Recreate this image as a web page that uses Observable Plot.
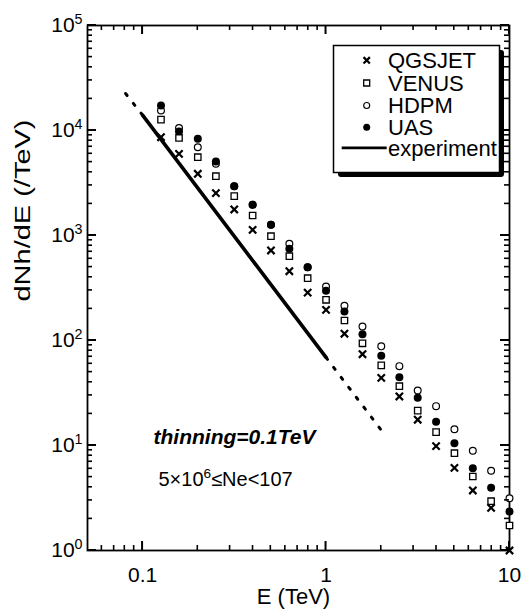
<!DOCTYPE html>
<html><head><meta charset="utf-8">
<script src="https://cdn.jsdelivr.net/npm/d3@7"></script>
<script src="https://cdn.jsdelivr.net/npm/@observablehq/plot@0.6"></script>
<style>body{margin:0;background:#fff}#chart{width:524px;height:615px}</style>
</head><body><div id="chart"></div>
<script>
// ---- data ----
const energies = [0.126, 0.158, 0.2, 0.251, 0.316, 0.398, 0.501, 0.631, 0.794, 1.0,
                  1.26, 1.58, 2.0, 2.51, 3.16, 3.98, 5.01, 6.31, 7.94, 10.0];
const qgsjet = [8630, 6000, 3870, 2530, 1770, 1133, 720, 457, 286, 196,
                116, 74, 44, 29.3, 17.6, 9.85, 6.13, 3.73, 2.55, 1.0];
const venus  = [12700, 8490, 5570, 3670, 2370, 1550, 985, 635, 392, 244,
                155, 94, 58, 36.7, 21.5, 13.4, 8.45, 5.07, 2.95, 1.73];
const hdpm   = [15500, 10570, 6930, 4820, 2950, 1960, 1265, 834, 499, 327,
                214, 136, 88, 57, 33.4, 23.7, 14.3, 8.9, 5.74, 3.15];
const uas    = [17300, 9800, 8340, 5070, 2950, 1960, 1265, 747, 499, 297,
                189, 115, 71.5, 44.7, 28.5, 16.8, 10.5, 6.08, 3.96, 2.35];
const expE      = [0.1, 1.0];
const expN      = [14000, 69];
const expLowE   = [0.1, 0.08];
const expLowN   = [14000, 23000];
const expHighE  = [1.0, 2.0];
const expHighN  = [69, 14];
const seriesNames = ["QGSJET", "VENUS", "HDPM", "UAS", "experiment"];
const xMajor = [0.1, 1, 10];
const xMinor = [0.06, 0.07, 0.08, 0.09, 0.2, 0.3, 0.4, 0.5, 0.6, 0.7, 0.8, 0.9, 2, 3, 4, 5, 6, 7, 8, 9];
const yMajor = [1, 10, 100, 1000, 10000, 100000];
const yMinor = [2,3,4,5,6,7,8,9, 20,30,40,50,60,70,80,90, 200,300,400,500,600,700,800,900,
                2000,3000,4000,5000,6000,7000,8000,9000, 20000,30000,40000,50000,60000,70000,80000,90000];
const yTitle = "dNh/dE (/TeV)";
const xTitle = "E (TeV)";
const note1 = "thinning=0.1TeV";
const note2 = "5×10^6≤Ne<107";

const FONT = "'Liberation Sans', Arial, Helvetica, sans-serif";
const W = 524, H = 615, ML = 87, MR = 15, MT = 25, MB = 65;
const rows = (ys) => energies.map((e, i) => ({E: e, N: ys[i]}));
const pts = (xs, ys) => xs.map((e, i) => ({E: e, N: ys[i]}));

const chart = Plot.plot({
  width: W, height: H,
  marginLeft: ML, marginRight: MR, marginTop: MT, marginBottom: MB,
  style: {fontFamily: FONT, fontSize: "21px", color: "black", background: "white"},
  x: {type: "log", domain: [0.0501, 10]},
  y: {type: "log", domain: [1, 1e5]},
  marks: [
    Plot.axisX({ticks: xMajor, anchor: "bottom", tickSize: 0, tickPadding: 17, tickFormat: d => String(d), label: null}),
    Plot.axisY({ticks: yMajor, anchor: "left", tickSize: 0, tickPadding: 5, tickFormat: d => "10^" + Math.round(Math.log10(d)), label: null}),
    Plot.frame({stroke: "black", strokeWidth: 1.8}),
    Plot.line(pts(expE, expN), {x: "E", y: "N", stroke: "black", strokeWidth: 3.6}),
    Plot.line(pts(expLowE, expLowN), {x: "E", y: "N", stroke: "black", strokeWidth: 3, strokeDasharray: "2.5,10"}),
    Plot.line(pts(expHighE, expHighN), {x: "E", y: "N", stroke: "black", strokeWidth: 3, strokeDasharray: "2.5,10"}),
    Plot.dot(rows(hdpm), {x: "E", y: "N", symbol: "circle", r: 3.4, stroke: "black", fill: "white", strokeWidth: 1.2}),
    Plot.dot(rows(uas), {x: "E", y: "N", symbol: "circle", r: 4, fill: "black", stroke: "none"}),
    Plot.dot(rows(venus), {x: "E", y: "N", symbol: "square", r: 3.6, stroke: "black", fill: "white", strokeWidth: 1.3}),
    Plot.dot(rows(qgsjet), {x: "E", y: "N", symbol: "times", r: 3.4, stroke: "black", strokeWidth: 2.2}),
    Plot.text([yTitle], {frameAnchor: "left", dx: -65, dy: 13.5, rotate: -90, fontSize: 22}),
    Plot.text([xTitle], {frameAnchor: "bottom", dx: -5, dy: 53, fontSize: 22}),
    Plot.text([note1], {frameAnchor: "top-left", textAnchor: "start", dx: 66, dy: 404, fontSize: 21, fontWeight: "bold", fontStyle: "italic"}),
    Plot.text([note2], {frameAnchor: "top-left", textAnchor: "start", dx: 71, dy: 446.5, fontSize: 20})
  ]
});
document.getElementById("chart").appendChild(chart);

// ---- superscripts ----
function setSup(el, base, sup, after) {
  const t = d3.select(el);
  t.text(null);
  t.append("tspan").text(base);
  t.append("tspan").attr("dy", -8).attr("font-size", "0.68em").text(sup);
  if (after) t.append("tspan").attr("dy", 8).text(after);
}
d3.select(chart).selectAll("text").each(function() {
  const s = this.textContent;
  let m = s.match(/^10\^(\d)$/);
  if (m) { setSup(this, "10", m[1], null); return; }
  if (s === note2) { setSup(this, "5×10", "6", "≤Ne<107"); return; }
  if (s === yTitle) { this.setAttribute("textLength", 182); this.setAttribute("lengthAdjust", "spacingAndGlyphs"); }
});

const svg = d3.select(chart);

// ---- inward ticks on all four sides, positioned by Plot's own scales ----
const sx = chart.scale("x"), sy = chart.scale("y");
const x0 = ML, x1 = W - MR, y0 = MT, y1 = H - MB;
const tg = svg.append("g").attr("stroke", "black").attr("fill", "none");
function xt(vals, len, sw) {
  vals.forEach(v => {
    const px = sx.apply(v);
    tg.append("line").attr("x1", px).attr("x2", px).attr("y1", y1).attr("y2", y1 - len).attr("stroke-width", sw);
    tg.append("line").attr("x1", px).attr("x2", px).attr("y1", y0).attr("y2", y0 + len).attr("stroke-width", sw);
  });
}
function yt(vals, len, sw) {
  vals.forEach(v => {
    const py = sy.apply(v);
    tg.append("line").attr("y1", py).attr("y2", py).attr("x1", x0).attr("x2", x0 + len).attr("stroke-width", sw);
    tg.append("line").attr("y1", py).attr("y2", py).attr("x1", x1).attr("x2", x1 - len).attr("stroke-width", sw);
  });
}
xt(xMajor, 9, 2); xt(xMinor, 5, 1.6);
yt(yMajor, 9, 2); yt(yMinor, 5, 1.6);

// ---- legend ----
const lg = svg.append("g").attr("font-family", FONT).attr("font-size", 22).attr("fill", "black").attr("text-anchor", "start");
lg.append("rect").attr("x", 338).attr("y", 50).attr("width", 166).attr("height", 127).attr("rx", 3).attr("fill", "black");
lg.append("rect").attr("x", 333.5).attr("y", 45.5).attr("width", 166).attr("height", 127)
  .attr("fill", "white").attr("stroke", "black").attr("stroke-width", 1.5);
const rowY = [60.3, 83, 105.5, 127.2, 147.8];
const mx = 366.7;
lg.append("path").attr("transform", `translate(${mx},${rowY[0]})`).attr("d", d3.symbol(d3.symbolTimes, 28)())
  .attr("stroke", "black").attr("stroke-width", 2.2).attr("fill", "none");
lg.append("path").attr("transform", `translate(${mx},${rowY[1]})`).attr("d", d3.symbol(d3.symbolSquare, 36)())
  .attr("stroke", "black").attr("stroke-width", 1.3).attr("fill", "white");
lg.append("circle").attr("cx", mx).attr("cy", rowY[2]).attr("r", 3).attr("stroke", "black").attr("stroke-width", 1.1).attr("fill", "white");
lg.append("circle").attr("cx", mx).attr("cy", rowY[3]).attr("r", 3.5).attr("fill", "black");
lg.append("line").attr("x1", 341.7).attr("x2", 386.7).attr("y1", rowY[4]).attr("y2", rowY[4]).attr("stroke", "black").attr("stroke-width", 2.8);
seriesNames.forEach((n, i) => {
  lg.append("text").attr("x", 388).attr("y", rowY[i]).attr("dy", "0.35em").attr("text-anchor", "start").text(n);
});
</script>
</body></html>
